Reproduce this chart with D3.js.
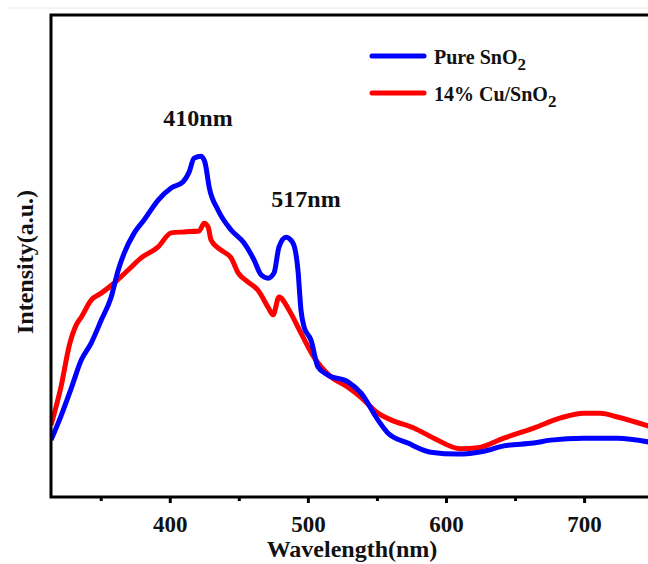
<!DOCTYPE html>
<html>
<head>
<meta charset="utf-8">
<script src="https://cdn.jsdelivr.net/npm/d3@7"></script>
<style>
  body { margin: 0; background: #fff; }
  svg { display: block; }
  text { font-family: "Liberation Serif", "Times New Roman", serif; font-weight: bold; fill: #111; }
</style>
</head>
<body>
<svg id="chart" width="648" height="564"></svg>
<script>
// wavelength (nm) and intensity (a.u.)
var pureWave = [314, 321.5, 328.7, 335.9, 343.2, 350.4, 357.6, 362.7, 367, 374.3, 381.5, 391.6, 401, 409.7, 414, 417.6, 422.7, 425.6, 428.5, 435, 444.4, 453.8, 461, 466.1, 471.1, 475.5, 479.1, 484.2, 489.2, 492.8, 495, 497.2, 502.2, 507.3, 514.5, 529, 538.4, 550.7, 557.9, 572.4, 589, 608.5, 627.3, 641.8, 663.5, 675.8, 699.6, 724.2, 747]
var pureInt = [11.8, 17, 22.6, 28.4, 32, 36.7, 41.5, 47.1, 50.6, 54.8, 57.5, 61.6, 64.1, 65.4, 67.4, 70.3, 70.7, 69.3, 64.3, 59.5, 55.4, 52.7, 49.2, 46.1, 45.4, 46.5, 51.9, 53.9, 52.7, 47.1, 38.8, 35.3, 32.6, 27, 25.3, 23.9, 21.6, 16, 13.3, 11.2, 9.3, 8.9, 9.5, 10.6, 11.2, 11.8, 12.2, 12.2, 11.4]

var cuWave = [314, 321.5, 327.3, 332.3, 335.9, 343.2, 350.4, 359.8, 369.9, 379.3, 391.6, 401, 410.4, 421.3, 424.9, 427.8, 429.9, 437.2, 444.4, 449.5, 456.7, 463.9, 471.1, 474.8, 479.1, 486.3, 495, 504.4, 516.7, 529, 538.4, 550.7, 560.1, 576.7, 591.2, 610.7, 623, 641.8, 663.5, 683, 699.6, 711.9, 724.2, 747]
var cuInt = [14.9, 23.2, 31.5, 35.7, 37.3, 40.9, 42.3, 44.4, 47.1, 49.6, 51.9, 54.8, 55, 55.2, 56.8, 56, 53.3, 51.2, 49.6, 46.5, 44.6, 42.9, 39.4, 37.8, 41.5, 38.8, 34, 29, 24.9, 22.8, 20.7, 17.4, 16, 14.3, 12.2, 10, 10.2, 12.2, 14.3, 16.4, 17.4, 17.4, 16.6, 14.7]

var xMajor = [400, 500, 600, 700]
var xMinor = [350, 450, 550, 650]
var seriesNames = ["Pure SnO", "14% Cu/SnO"]
var seriesColors = ["#0000ff", "#ff0000"]

var svg = d3.select("#chart")
var plotL = 51, plotR = 700, plotT = 15, plotB = 497

var x = d3.scaleLinear().domain([314, 747]).range([plotL, 649])
var y = d3.scaleLinear().domain([0, 100]).range([plotB, plotT])

// faint line at the very top of the picture
svg.append("line").attr("x1", 8).attr("x2", 648).attr("y1", 8).attr("y2", 8)
    .attr("stroke", "#e8e8e8").attr("stroke-width", 1)

svg.append("clipPath").attr("id", "clip")
    .append("rect").attr("x", plotL).attr("y", plotT).attr("width", plotR - plotL).attr("height", plotB - plotT)

var line = d3.line()
    .x(function (d) { return x(d[0]) })
    .y(function (d) { return y(d[1]) })
    .curve(d3.curveMonotoneX)

var series = [d3.zip(pureWave, pureInt), d3.zip(cuWave, cuInt)]

var g = svg.append("g").attr("clip-path", "url(#clip)")
// red drawn first, blue on top
g.append("path").datum(series[1]).attr("d", line)
    .attr("fill", "none").attr("stroke", seriesColors[1]).attr("stroke-width", 5).attr("stroke-linejoin", "round")
g.append("path").datum(series[0]).attr("d", line)
    .attr("fill", "none").attr("stroke", seriesColors[0]).attr("stroke-width", 5).attr("stroke-linejoin", "round")

// frame
svg.append("rect").attr("x", plotL).attr("y", plotT).attr("width", plotR - plotL).attr("height", plotB - plotT)
    .attr("fill", "none").attr("stroke", "#000").attr("stroke-width", 3)

// x axis
var xAxis = d3.axisBottom(x).tickValues(xMajor).tickSize(6).tickPadding(13).tickFormat(d3.format("d"))
var ax = svg.append("g").attr("transform", "translate(0," + plotB + ")").call(xAxis)
ax.select(".domain").remove()
ax.selectAll(".tick line").attr("stroke", "#000").attr("stroke-width", 3)
ax.selectAll(".tick text").style("font-size", "23px").style("font-family", "Liberation Serif, serif").style("font-weight", "bold").attr("fill", "#111")

var minorAxis = d3.axisBottom(x).tickValues(xMinor).tickSize(4).tickFormat("")
var mx = svg.append("g").attr("transform", "translate(0," + plotB + ")").call(minorAxis)
mx.select(".domain").remove()
mx.selectAll(".tick line").attr("stroke", "#000").attr("stroke-width", 3)

// axis titles
svg.append("text").attr("x", 352).attr("y", 557).attr("text-anchor", "middle")
    .style("font-size", "24px").text("Wavelength(nm)")
svg.append("text").attr("transform", "translate(33,262) rotate(-90)").attr("text-anchor", "middle")
    .style("font-size", "24px").text("Intensity(a.u.)")

// peak labels
svg.append("text").attr("x", 198).attr("y", 126).attr("text-anchor", "middle").style("font-size", "24px").text("410nm")
svg.append("text").attr("x", 306).attr("y", 207).attr("text-anchor", "middle").style("font-size", "24px").text("517nm")

// legend
var legend = svg.append("g")
seriesNames.forEach(function (name, i) {
    var ly = 56 + i * 37
    legend.append("line").attr("x1", 372).attr("x2", 424).attr("y1", ly).attr("y2", ly)
        .attr("stroke", seriesColors[i]).attr("stroke-width", 5).attr("stroke-linecap", "round")
    var t = legend.append("text").attr("x", 434).attr("y", ly + 8).style("font-size", "20px").text(name)
    t.append("tspan").attr("dy", 6).style("font-size", "17px").text("2")
})
</script>
</body>
</html>
